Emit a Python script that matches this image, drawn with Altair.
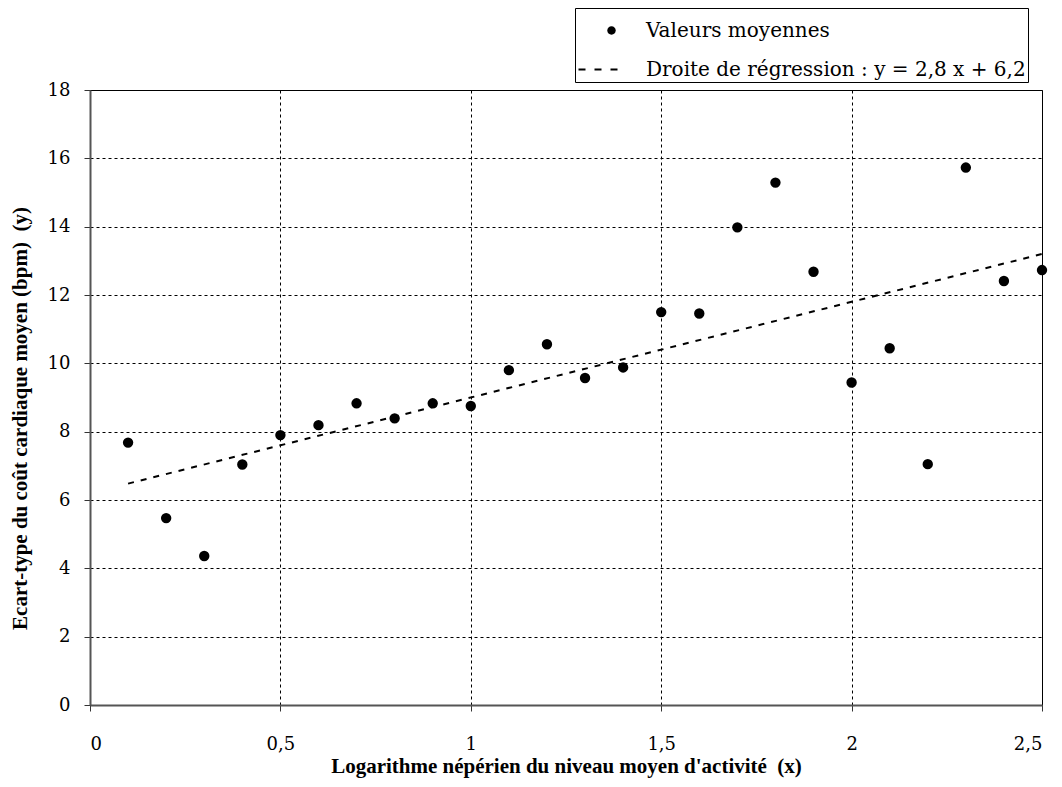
import altair as alt
import pandas as pd

# ---- data ----
x_vals = [0.1, 0.2, 0.3, 0.4, 0.5, 0.6, 0.7, 0.8, 0.9, 1.0,
          1.1, 1.2, 1.3, 1.4, 1.5, 1.6, 1.7, 1.8, 1.9, 2.0,
          2.1, 2.2, 2.3, 2.4, 2.5]
y_vals = [7.68, 5.47, 4.36, 7.04, 7.90, 8.19, 8.83, 8.39, 8.83, 8.75,
          9.80, 10.56, 9.57, 9.88, 11.50, 11.46, 13.98, 15.29, 12.68, 9.44,
          10.44, 7.05, 15.73, 12.41, 12.73]

# regression line from the legend equation y = 2.8 x + 6.2
reg_slope = 2.8
reg_intercept = 6.2
reg_x_range = [0.1, 2.5]

x_ticks = [0, 0.5, 1, 1.5, 2, 2.5]
y_ticks = [0, 2, 4, 6, 8, 10, 12, 14, 16, 18]

lab_pts = "Valeurs moyennes"
lab_reg = "Droite de régression : y = 2,8 x + 6,2\u00a0\u00a0"

x_title = "Logarithme népérien du niveau moyen d'activité\u00a0 (x)"
y_title = "Ecart-type du coût cardiaque moyen (bpm)\u00a0 (y)"

TFONT = "Liberation Serif"
LFONT = "DejaVu Serif"

df_pts = pd.DataFrame({"x": x_vals, "y": y_vals, "serie": lab_pts})
df_reg = pd.DataFrame({
    "x": reg_x_range,
    "y": [reg_slope * v + reg_intercept for v in reg_x_range],
    "serie": lab_reg,
})

circle_path = "M-0.21,0A0.21,0.21 0 1,1 0.21,0A0.21,0.21 0 1,1 -0.21,0Z"
dash_path = ("M-1.65,-0.05H-1.3V0.05H-1.65Z"
             "M-0.85,-0.05H-0.5V0.05H-0.85Z"
             "M-0.05,-0.05H0.3V0.05H-0.05Z")

x_enc = alt.X(
    "x:Q",
    scale=alt.Scale(domain=[0, 2.5], nice=False, zero=False),
    axis=alt.Axis(
        values=x_ticks,
        title=x_title,
        labelExpr="replace(format(datum.value, '.1~f'), '.', ',')",
        grid=True,
    ),
)
y_enc = alt.Y(
    "y:Q",
    scale=alt.Scale(domain=[0, 18], nice=False, zero=False),
    axis=alt.Axis(values=y_ticks, title=y_title, grid=True, titleY=328),
)

reg_line = alt.Chart(df_reg).mark_line(
    color="black", strokeWidth=2, strokeDash=[6, 7]
).encode(x=x_enc, y=y_enc)

points = alt.Chart(df_pts).mark_point(
    filled=True, size=1600, fill="black", stroke="black", opacity=1, strokeWidth=2
).encode(
    x=x_enc,
    y=y_enc,
    shape=alt.Shape(
        "serie:N",
        scale=alt.Scale(domain=[lab_pts, lab_reg], range=[circle_path, dash_path]),
        legend=alt.Legend(
            title=None,
            orient="none",
            legendX=485,
            legendY=-82,
            padding=2,
            strokeColor="black",
            fillColor="white",
            labelFont=LFONT,
            labelFontSize=20,
            labelColor="black",
            labelOffset=14,
            labelLimit=600,
            symbolSize=1600,
            symbolFillColor="black",
            symbolStrokeColor="black",
            symbolStrokeWidth=1,
            rowPadding=8,
            symbolOffset=14,
        ),
    ),
)

chart = alt.layer(reg_line, points).properties(
    width=952,
    height=615,
    autosize=alt.AutoSizeParams(type="none"),
    padding={"left": 82, "top": 82, "right": 12, "bottom": 82},
    background="white",
).configure_view(
    stroke="black", strokeWidth=1
).configure_axis(
    labelFont=LFONT,
    labelFontSize=18,
    labelColor="black",
    titleFont=TFONT,
    titleFontSize=21,
    titleFontWeight="bold",
    titleColor="black",
    domainColor="#555555",
    domainWidth=2,
    tickColor="#333333",
    tickSize=6,
    tickWidth=1,
    gridColor="black",
    gridDash=[3, 3],
    gridWidth=1,
    gridOpacity=1,
).configure_axisX(
    labelPadding=24, titlePadding=2
).configure_axisY(
    labelPadding=14, titlePadding=17
)

chart.save("out.html", embed_options={"renderer": "svg", "actions": False})
